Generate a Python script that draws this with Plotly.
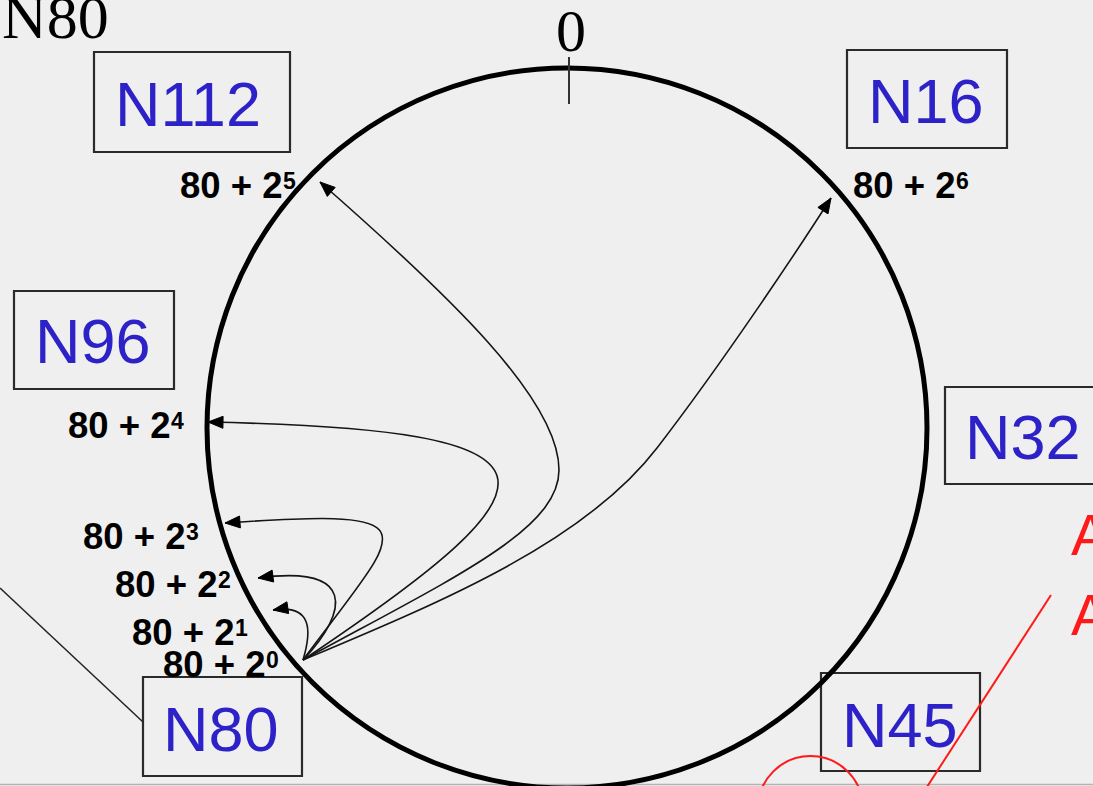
import numpy as np
import plotly.graph_objects as go

# ---------------- data ----------------
finger_base = 80
finger_exponents = [0, 1, 2, 3, 4, 5, 6]
node_labels = ["N112", "N16", "N96", "N32", "N80", "N45"]
zero_label = "0"
corner_label = "N80"
side_letters = ["A", "A"]

# ---------------- geometry / style (layout only) ----------------
W, H = 1093, 786
BG = "#efefef"
BLUE = "#2c22c8"
RED = "#ff1a1a"
ring_cx, ring_cy, ring_r = 567, 428, 360
LABEL_FS = 36.5
EXP_FS = 23

node_boxes = {
    "N112": (94, 52, 290, 152),
    "N16": (847, 50, 1007, 148),
    "N96": (14, 291, 174, 389),
    "N32": (945, 387, 1110, 484),
    "N80": (143, 677, 302, 776),
    "N45": (821, 673, 980, 771),
}
node_text_pos = {
    "N112": (188, 104), "N16": (926, 101), "N96": (93, 341),
    "N32": (1023, 437), "N80": (221, 729), "N45": (900, 725),
}
finger_label_pos = {0: (161, 664), 1: (130, 632), 2: (113, 584), 3: (81, 536),
                    4: (66, 425), 5: (178, 185), 6: (851, 185)}
origin = (303, 660)
finger_paths = {
    1: [[(312, 630), (312, 604), (273, 610)]],
    2: [[(350, 610), (355, 565), (258, 578)]],
    3: [[(403, 525), (440, 508), (225, 523)]],
    4: [[(575, 478), (580, 430), (208, 422)]],
    5: [[(453, 578), (559, 530), (559, 470)], [(559, 400), (450, 296), (320, 182)]],
    6: [[(441, 602), (584, 543), (657, 448)], [(724, 361), (799, 248), (831, 198)]],
}

shapes = []
annotations = []

# background bottom rule
shapes.append(dict(type="line", x0=0, x1=W, y0=784.5, y1=784.5,
                   line=dict(color="#b4b4b4", width=1.5)))

# node boxes
for name in node_labels:
    x0, y0, x1, y1 = node_boxes[name]
    shapes.append(dict(type="rect", x0=x0, x1=x1, y0=y0, y1=y1,
                       line=dict(color="#2a2a2a", width=2.2)))
    tx, ty = node_text_pos[name]
    annotations.append(dict(x=tx, y=ty, text=name, showarrow=False,
                            xanchor="center", yanchor="middle",
                            font=dict(family="Liberation Sans", size=63, color=BLUE)))

# ring
shapes.append(dict(type="circle", x0=ring_cx - ring_r, x1=ring_cx + ring_r,
                    y0=ring_cy - ring_r, y1=ring_cy + ring_r,
                    line=dict(color="black", width=5)))
# zero tick
shapes.append(dict(type="line", x0=569, x1=569, y0=57, y1=104,
                   line=dict(color="#333333", width=2)))
annotations.append(dict(x=571, y=31, text=zero_label, showarrow=False,
                        xanchor="center", yanchor="middle",
                        font=dict(family="Liberation Serif", size=60, color="black")))
annotations.append(dict(x=0, y=17, text=corner_label, showarrow=False,
                        xanchor="left", yanchor="middle",
                        font=dict(family="Liberation Serif", size=62, color="black")))

# pointer line to N80 box
shapes.append(dict(type="line", x0=0, y0=588, x1=143, y1=722,
                   line=dict(color="#222222", width=1.5)))

# finger labels, curves + arrowheads
base_width = 2.808 * LABEL_FS  # advance width of "80 + 2" in bold Arial-metric font
for e in finger_exponents:
    lx, ly = finger_label_pos[e]
    annotations.append(dict(x=lx, y=ly, text=f"<b>{finger_base} + 2</b>",
                            showarrow=False, xanchor="left", yanchor="middle",
                            font=dict(family="Liberation Sans", size=LABEL_FS, color="black")))
    annotations.append(dict(x=lx + base_width + 1, y=ly - 4.5, text=f"<b>{e}</b>",
                            showarrow=False, xanchor="left", yanchor="middle",
                            font=dict(family="Liberation Sans", size=EXP_FS, color="black")))
    if e not in finger_paths:
        continue
    segs = finger_paths[e]
    d = f"M {origin[0]},{origin[1]}"
    for (p1, p2, p3) in segs:
        d += f" C {p1[0]},{p1[1]} {p2[0]},{p2[1]} {p3[0]},{p3[1]}"
    shapes.append(dict(type="path", path=d, line=dict(color="#151515", width=1.6)))
    p2, tip = np.array(segs[-1][1], float), np.array(segs[-1][2], float)
    u = (tip - p2) / np.linalg.norm(tip - p2)
    n = np.array([-u[1], u[0]])
    L, hw = 15, 6
    a = tip - L * u + hw * n
    b = tip - L * u - hw * n
    shapes.append(dict(type="path",
                       path=f"M {tip[0]:.1f},{tip[1]:.1f} L {a[0]:.1f},{a[1]:.1f} L {b[0]:.1f},{b[1]:.1f} Z",
                       fillcolor="black", line=dict(color="black", width=1)))

# red annotation marks
shapes.append(dict(type="line", x0=1051, y0=595, x1=925, y1=790,
                   line=dict(color=RED, width=2)))
shapes.append(dict(type="circle", x0=758, x1=863, y0=756, y1=861,
                   line=dict(color=RED, width=2)))
for txt, yy in zip(side_letters, [534, 614]):
    annotations.append(dict(x=1069, y=yy, text=txt, showarrow=False,
                            xanchor="left", yanchor="middle",
                            font=dict(family="Liberation Sans", size=58, color=RED)))

fig = go.Figure(go.Scatter(x=[origin[0]], y=[origin[1]], mode="markers",
                           marker=dict(size=1, color="rgba(0,0,0,0)"),
                           hoverinfo="skip", showlegend=False))
fig.update_layout(
    width=W, height=H, margin=dict(l=0, r=0, t=0, b=0),
    paper_bgcolor=BG, plot_bgcolor=BG,
    xaxis=dict(range=[0, W], visible=False, fixedrange=True),
    yaxis=dict(range=[H, 0], visible=False, fixedrange=True),
    shapes=shapes, annotations=annotations, showlegend=False,
)
fig.write_html("out.html", config={"displayModeBar": False},
               post_script="document.body.style.margin='0';document.body.style.background='#efefef';")
